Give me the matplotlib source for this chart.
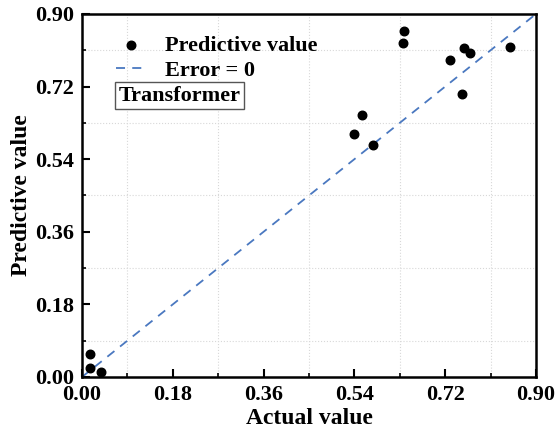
import matplotlib
matplotlib.use("Agg")
import matplotlib.pyplot as plt
from matplotlib.ticker import MultipleLocator

# values
actual = [0.016, 0.016, 0.038, 0.539, 0.556, 0.577, 0.636, 0.638,
          0.730, 0.757, 0.769, 0.754, 0.848]
predicted = [0.057, 0.022, 0.013, 0.603, 0.649, 0.575, 0.827, 0.857,
             0.786, 0.816, 0.804, 0.702, 0.818]
ticks = [0.00, 0.18, 0.36, 0.54, 0.72, 0.90]
model_name = "Transformer"

plt.rcParams['font.family'] = ['Liberation Serif', 'DejaVu Serif']
plt.rcParams['font.weight'] = 'bold'

fig = plt.figure(figsize=(5.55, 4.37), dpi=100)
ax = fig.add_axes([0.1477, 0.1373, 0.818, 0.8307])

ax.scatter(actual, predicted, s=38, color='black', zorder=3, label='Predictive value')
ax.plot([0, 0.9], [0, 0.9], linestyle=(0, (5, 4)), color='#4a78c0', linewidth=1.3,
        label='Error = 0', zorder=2)

ax.set_xlim(0, 0.9)
ax.set_ylim(0, 0.9)
ax.set_xticks(ticks)
ax.set_yticks(ticks)
ax.set_xticklabels([f"{t:.2f}" for t in ticks])
ax.set_yticklabels([f"{t:.2f}" for t in ticks])
ax.xaxis.set_minor_locator(MultipleLocator(0.09))
ax.yaxis.set_minor_locator(MultipleLocator(0.09))
ax.tick_params(which='major', direction='in', length=6, width=1.5, labelsize=16, pad=6)
ax.tick_params(which='minor', direction='in', length=3, width=1.2)
ax.grid(True, which='minor', linestyle=':', color='#d8d8d8', linewidth=0.8)
for sp in ax.spines.values():
    sp.set_linewidth(1.8)

ax.set_xlabel('Actual value', fontsize=17, fontweight='bold', labelpad=2)
ax.set_ylabel('Predictive value', fontsize=17, fontweight='bold', labelpad=2)

leg = ax.legend(loc='upper left', bbox_to_anchor=(0.035, 0.99), frameon=False,
                prop={'size': 16, 'weight': 'bold'}, handlelength=1.4,
                handletextpad=0.8, labelspacing=0.2, borderpad=0.3)

ax.text(0.215, 0.775, model_name, transform=ax.transAxes, fontsize=16, fontweight='bold',
        ha='center', va='center',
        bbox=dict(boxstyle='square,pad=0.17', facecolor='white', edgecolor='#555555', linewidth=1))

fig.savefig('out.png', dpi=100)
